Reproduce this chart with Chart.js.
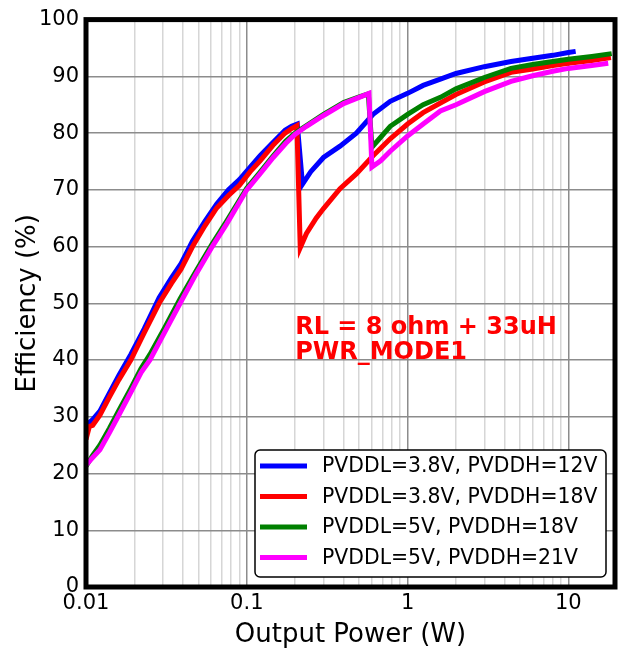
<!DOCTYPE html>
<html>
<head>
<meta charset="utf-8">
<script src="https://cdn.jsdelivr.net/npm/chart.js@4"></script>
<style>
  body { margin: 0; background: #fff; }
  #wrap { width: 619px; height: 652px; }
</style>
</head>
<body>
<div id="wrap"><canvas id="effChart" width="619" height="652"></canvas></div>
<script>
// series labels
const seriesLabels = [
    'PVDDL=3.8V, PVDDH=12V',
    'PVDDL=3.8V, PVDDH=18V',
    'PVDDL=5V, PVDDH=18V',
    'PVDDL=5V, PVDDH=21V'
];
const seriesColors = ['#0000ff', '#ff0000', '#008000', '#ff00ff'];

// output power (W) and efficiency (%)
const powerBlue = [0.01, 0.0105, 0.011, 0.0122, 0.014, 0.016, 0.019, 0.023, 0.0285, 0.034, 0.039, 0.046, 0.055, 0.065, 0.077, 0.09, 0.105, 0.121, 0.145, 0.173, 0.19, 0.206, 0.222, 0.25, 0.3, 0.38, 0.48, 0.61, 0.78, 1.0, 1.25, 1.6, 2.0, 3.0, 4.4, 6.0, 8.0, 10.0, 11.1];
const effBlue = [28, 29, 29.5, 31, 34.2, 37.3, 41, 45.5, 51, 54.5, 57, 61, 64.5, 67.5, 70, 71.8, 74, 76, 78.3, 80.5, 81.2, 81.6, 71, 73.2, 75.7, 77.7, 80, 83.3, 85.6, 87, 88.4, 89.5, 90.5, 91.7, 92.6, 93.2, 93.7, 94.2, 94.4];

const powerRed = [0.01, 0.0105, 0.011, 0.0122, 0.014, 0.016, 0.019, 0.023, 0.0285, 0.034, 0.039, 0.046, 0.055, 0.065, 0.077, 0.09, 0.105, 0.121, 0.145, 0.173, 0.19, 0.205, 0.215, 0.235, 0.27, 0.3, 0.38, 0.48, 0.61, 0.78, 1.0, 1.25, 1.6, 2.0, 3.0, 4.4, 6.0, 8.0, 10.0, 14.0, 18.4];
const effRed = [26, 28.3, 28.5, 30.3, 33.5, 36.5, 40, 44.8, 50, 53.5, 56, 60, 63.7, 66.8, 69, 70.8, 73.2, 75.1, 77.8, 80, 80.8, 81.3, 59.8, 62.3, 65, 66.7, 70.2, 72.8, 76, 79, 81.6, 83.6, 85.3, 86.8, 89, 90.7, 91.3, 91.9, 92.3, 92.8, 93.3];

const powerGreen = [0.01, 0.011, 0.0122, 0.014, 0.0158, 0.019, 0.022, 0.025, 0.031, 0.0385, 0.048, 0.061, 0.075, 0.1, 0.12, 0.146, 0.175, 0.2, 0.235, 0.3, 0.4, 0.5, 0.57, 0.6, 0.78, 1.0, 1.25, 1.6, 2.0, 3.0, 4.4, 6.0, 8.0, 10.0, 14.0, 18.6];
const effGreen = [21.3, 23.2, 25, 28, 30.8, 35, 38.5, 41, 45.8, 50.8, 55.5, 60.5, 64.5, 70.3, 73, 76, 78.6, 80, 81.3, 83.3, 85.4, 86.4, 86.9, 77.5, 81.2, 83.3, 85, 86.3, 87.8, 89.8, 91.4, 92.1, 92.6, 93, 93.5, 94];

const powerMagenta = [0.01, 0.011, 0.0122, 0.014, 0.0158, 0.019, 0.022, 0.025, 0.031, 0.0385, 0.048, 0.061, 0.075, 0.1, 0.12, 0.146, 0.175, 0.2, 0.235, 0.3, 0.4, 0.5, 0.575, 0.6, 0.68, 0.78, 1.0, 1.25, 1.6, 2.0, 3.0, 4.4, 6.0, 8.0, 10.0, 14.0, 17.7];
const effMagenta = [21.5, 22.8, 24.2, 27.2, 30, 34.3, 37.8, 40, 45, 50, 55, 60, 64, 70, 72.7, 75.7, 78.2, 79.8, 81.2, 83.1, 85.2, 86.3, 87, 74, 75.1, 76.8, 79.5, 81.6, 83.9, 85, 87.3, 89.1, 90.1, 90.9, 91.4, 91.9, 92.3];

// axis ticks
const xDecades = [0.01, 0.1, 1, 10];
const xTickLabels = ['0.01', '0.1', '1', '10'];
const annotationLines = ['RL = 8 ohm + 33uH', 'PWR_MODE1'];

const powers = [powerBlue, powerRed, powerGreen, powerMagenta];
const effs = [effBlue, effRed, effGreen, effMagenta];

const xTickValues = [];
xDecades.forEach(d => {
    for (let m = 1; m <= 9; m++) {
        const v = +(d * m).toPrecision(3);
        if (v <= 19.5) xTickValues.push(v);
    }
});

function isDecade(v) {
    return xDecades.some(d => Math.abs(v - d) < d * 1e-6);
}

const overlayPlugin = {
    id: 'overlay',
    afterDatasetsDraw(chart) {
        const { ctx, chartArea: a, scales } = chart;
        ctx.save();

        // thick frame
        ctx.strokeStyle = '#000';
        ctx.lineWidth = 5;
        ctx.strokeRect(a.left, a.top, a.right - a.left, a.bottom - a.top);

        // annotation text
        ctx.fillStyle = '#ff0000';
        ctx.font = 'bold 24px "DejaVu Sans"';
        ctx.textAlign = 'left';
        ctx.textBaseline = 'alphabetic';
        const ax = scales.x.getPixelForValue(0.2);
        ctx.fillText(annotationLines[0], ax, scales.y.getPixelForValue(44.6));
        ctx.fillText(annotationLines[1], ax, scales.y.getPixelForValue(40.2));

        // legend box in lower right
        const bx = a.right - 360, by = a.bottom - 137, bw = 351, bh = 127;
        ctx.beginPath();
        ctx.roundRect(bx, by, bw, bh, 5);
        ctx.fillStyle = '#fff';
        ctx.fill();
        ctx.lineWidth = 1.5;
        ctx.strokeStyle = '#000';
        ctx.stroke();

        ctx.font = '20.4px "DejaVu Sans"';
        ctx.textBaseline = 'middle';
        seriesLabels.forEach((label, i) => {
            const ry = by + 16 + i * 30.5;
            ctx.beginPath();
            ctx.moveTo(bx + 5, ry);
            ctx.lineTo(bx + 52, ry);
            ctx.strokeStyle = seriesColors[i];
            ctx.lineWidth = 5;
            ctx.stroke();
            ctx.fillStyle = '#000';
            ctx.fillText(label, bx + 67, ry + 1);
        });
        ctx.restore();
    }
};

Chart.defaults.font.family = '"DejaVu Sans"';
Chart.defaults.color = '#000';

const ctx = document.getElementById('effChart').getContext('2d');
new Chart(ctx, {
    type: 'line',
    data: {
        datasets: seriesLabels.map((label, i) => ({
            label: label,
            data: powers[i].map((p, k) => ({ x: p, y: effs[i][k] })),
            borderColor: seriesColors[i],
            borderWidth: 5,
            pointRadius: 0,
            tension: 0,
            fill: false,
            order: 4 - i
        }))
    },
    options: {
        responsive: false,
        animation: false,
        devicePixelRatio: 1,
        layout: { padding: { top: 17, right: 4, left: 0, bottom: 0 } },
        plugins: {
            legend: { display: false },
            tooltip: { enabled: false }
        },
        scales: {
            x: {
                type: 'logarithmic',
                min: 0.01,
                max: 19.5,
                afterBuildTicks: scale => {
                    scale.ticks = xTickValues.map(v => ({ value: v }));
                },
                afterFit: scale => { scale.height = 65; },
                ticks: {
                    autoSkip: false,
                    maxRotation: 0,
                    padding: 4,
                    font: { size: 21 },
                    callback: function(value) {
                        const idx = xDecades.findIndex(d => Math.abs(value - d) < d * 1e-6);
                        return idx >= 0 ? xTickLabels[idx] : '';
                    }
                },
                grid: {
                    drawTicks: false,
                    lineWidth: 1.5,
                    color: c => (c.tick && isDecade(c.tick.value)) ? '#8c8c8c' : '#d6d6d6'
                },
                border: { display: false },
                title: {
                    display: true,
                    text: 'Output Power (W)',
                    font: { size: 26 },
                    padding: { top: 0, bottom: 1 }
                }
            },
            y: {
                min: 0,
                max: 100,
                afterFit: scale => { scale.width = 86; },
                ticks: {
                    stepSize: 10,
                    padding: 7,
                    font: { size: 21 }
                },
                grid: {
                    drawTicks: false,
                    lineWidth: 1.5,
                    color: '#8c8c8c'
                },
                border: { display: false },
                title: {
                    display: true,
                    text: 'Efficiency (%)',
                    font: { size: 26 },
                    padding: { top: 13, bottom: 0 }
                }
            }
        }
    },
    plugins: [overlayPlugin]
});
</script>
</body>
</html>
